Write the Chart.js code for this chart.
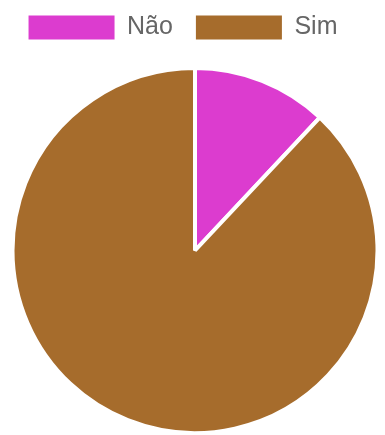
<!DOCTYPE html>
<html><head><meta charset="utf-8">
<style>html,body{margin:0;padding:0;background:#fff}#w{width:385px;height:435px}</style>
<script src="https://cdn.jsdelivr.net/npm/chart.js@4/dist/chart.umd.min.js"></script>
</head><body><div id="w"><canvas id="c"></canvas></div>
<script>
const categories = ["Não", "Sim"];
const values = [12, 88];
const colors = ["#DC3CCF", "#A66C2C"];
const legendShift = {
  id: 'legendShift',
  afterLayout(chart) {
    const l = chart.legend;
    if (!l) return;
    l.left -= 12; l.right -= 12; l.top -= 16; l.bottom -= 16;
  }
};
new Chart(document.getElementById('c'), {
  type: 'pie',
  data: { labels: categories, datasets: [{ data: values, backgroundColor: colors, borderColor: '#fff', borderWidth: 4 }] },
  options: {
    responsive: true, maintainAspectRatio: false, animation: false,
    layout: { padding: { left: 5, right: 0, top: 8, bottom: -6 } },
    plugins: {
      legend: {
        position: 'top',
        labels: {
          boxWidth: 86, boxHeight: 24, padding: 23, color: '#666',
          font: { family: 'Liberation Sans, Arial', size: 25 },
          generateLabels(chart) {
            const items = Chart.overrides.pie.plugins.legend.labels.generateLabels(chart);
            items.forEach(it => { it.lineWidth = 0; });
            return items;
          }
        }
      },
      tooltip: { enabled: false }
    }
  },
  plugins: [legendShift]
});
</script></body></html>
